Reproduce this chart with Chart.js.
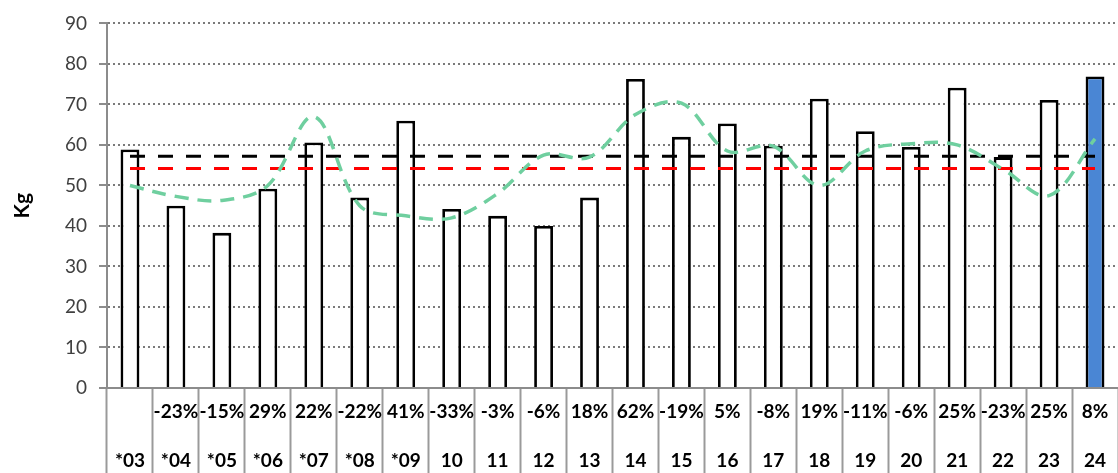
<!DOCTYPE html>
<html>
<head>
<meta charset="utf-8">
<script src="https://cdn.jsdelivr.net/npm/chart.js@4/dist/chart.umd.min.js"></script>
<style>
  body { margin: 0; background: #fff; }
  #wrap { width: 1118px; height: 473px; position: relative; }
</style>
</head>
<body>
<div id="wrap"><canvas id="kgChart"></canvas></div>
<script>
// years and yearly change shown in the table under the bars
const years = ['*03', '*04', '*05', '*06', '*07', '*08', '*09', '10', '11', '12', '13',
               '14', '15', '16', '17', '18', '19', '20', '21', '22', '23', '24'];
const changes = ['', '-23%', '-15%', '29%', '22%', '-22%', '41%', '-33%', '-3%', '-6%', '18%',
                 '62%', '-19%', '5%', '-8%', '19%', '-11%', '-6%', '25%', '-23%', '25%', '8%'];

// kg per year
const kgValues = [58.9, 45, 38.3, 49.2, 60.6, 47, 66, 44.2, 42.5, 40, 47,
                  76.3, 62, 65.3, 59.8, 71.4, 63.4, 59.5, 74.1, 57, 71.1, 76.9];

// smoothed trend (green dashed)
const trendValues = [50, 47.3, 46.3, 50, 67, 45, 42.5, 42, 48, 57.5, 57,
                     67.5, 70.3, 58.5, 59.7, 50, 58.5, 60.3, 60, 54, 47.5, 61.5];

// reference levels
const blackLevel = 57.2;
const redLevel = 54.2;

const yTicks = { min: 0, max: 90, step: 10 };

const labels = years.map((y, i) => [changes[i], y]);
const barColors = kgValues.map((v, i) => i === kgValues.length - 1 ? '#4a86d4' : '#ffffff');

const ctx = document.getElementById('kgChart').getContext('2d');

new Chart(ctx, {
  data: {
    labels: labels,
    datasets: [
      {
        type: 'line',
        data: [{ x: labels[0], y: blackLevel }, { x: labels[labels.length - 1], y: blackLevel }],
        borderColor: '#000000',
        borderWidth: 3,
        borderDash: [15, 13],
        pointRadius: 0,
        order: 1
      },
      {
        type: 'line',
        data: [{ x: labels[0], y: redLevel }, { x: labels[labels.length - 1], y: redLevel }],
        borderColor: '#ff0000',
        borderWidth: 3,
        borderDash: [15, 13],
        pointRadius: 0,
        order: 1
      },
      {
        type: 'line',
        data: trendValues,
        borderColor: '#6fcf9f',
        borderWidth: 3.5,
        borderDash: [14, 9],
        pointRadius: 0,
        tension: 0.35,
        order: 0
      },
      {
        type: 'bar',
        data: kgValues,
        backgroundColor: barColors,
        borderColor: '#000000',
        borderWidth: 2.8,
        barPercentage: 0.41,
        categoryPercentage: 1,
        order: 2
      }
    ]
  },
  options: {
    responsive: true,
    maintainAspectRatio: false,
    animation: false,
    layout: { padding: { top: 17, right: 0, left: 0, bottom: 0 } },
    plugins: {
      legend: { display: false },
      tooltip: { enabled: false }
    },
    scales: {
      x: {
        type: 'category',
        offset: true,
        afterFit: scale => { scale.height = 85; },
        grid: {
          offset: true,
          drawOnChartArea: false,
          drawTicks: true,
          tickLength: 85,
          tickColor: '#9a9a9a',
          tickWidth: 2
        },
        border: { color: '#8c8c8c', width: 2 },
        ticks: {
          color: '#000000',
          padding: -85,
          maxRotation: 0,
          autoSkip: false,
          font: { family: 'Lato', size: 19, weight: 'bold', lineHeight: 2.55 }
        }
      },
      y: {
        min: yTicks.min,
        max: yTicks.max,
        afterFit: scale => { scale.width = 107; },
        grid: {
          color: '#7a7a7a',
          lineWidth: 2,
          drawTicks: true,
          tickLength: 8,
          tickColor: '#8c8c8c',
          tickWidth: 2,
          tickBorderDash: []
        },
        border: { color: '#8c8c8c', width: 2, dash: [2, 3] },
        ticks: {
          stepSize: yTicks.step,
          color: '#404040',
          padding: 12,
          font: { family: 'Lato', size: 19 }
        },
        title: {
          display: true,
          text: 'Kg',
          color: '#000000',
          padding: { top: 10, bottom: 0 },
          font: { family: 'Lato', size: 21, weight: 'bold' }
        }
      }
    }
  }
});
</script>
</body>
</html>
